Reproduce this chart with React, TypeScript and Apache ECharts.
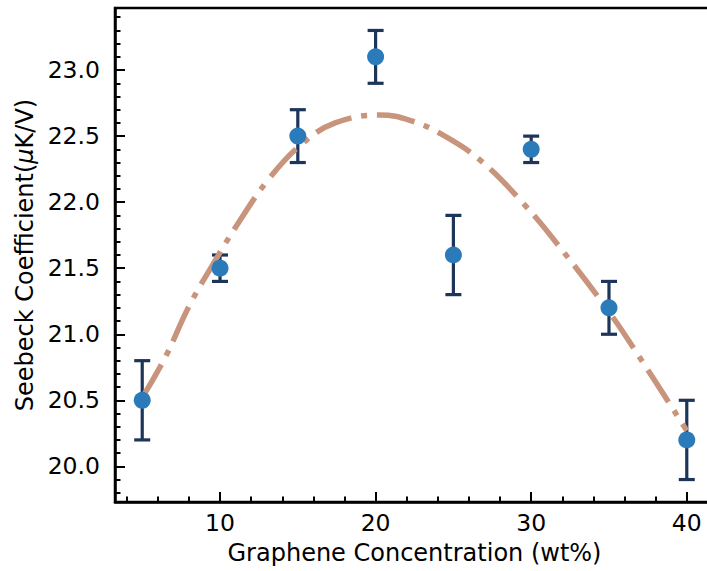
import React, { useEffect, useRef } from 'react';
import * as echarts from 'echarts';

// Measured data (Graphene concentration wt% vs Seebeck coefficient µK/V)
const concentrations = [5, 10, 15, 20, 25, 30, 35, 40];
const seebeck = [20.5, 21.5, 22.5, 23.1, 21.6, 22.4, 21.2, 20.2];
const errors = [0.3, 0.1, 0.2, 0.2, 0.3, 0.1, 0.2, 0.3];

// Fitted curve
const fitX = [5, 6.5, 8, 9.7, 11, 13.1, 15.25, 17.4, 20.3, 22.2, 24.15, 26.7, 29.5, 32.1, 35, 37, 40];
const fitY = [20.52, 20.83, 21.21, 21.56, 21.81, 22.17, 22.44, 22.6, 22.66, 22.62, 22.52, 22.32, 21.99, 21.62, 21.17, 20.82, 20.27];

// Ticks
const xMajorTicks = [10, 20, 30, 40];
const xMinorTicks = [4, 6, 8, 12, 14, 16, 18, 22, 24, 26, 28, 32, 34, 36, 38];
const yMajorTicks = [20.0, 20.5, 21.0, 21.5, 22.0, 22.5, 23.0];
const yMinorTicks = [
  19.8, 19.9, 20.1, 20.2, 20.3, 20.4, 20.6, 20.7, 20.8, 20.9, 21.1, 21.2, 21.3, 21.4,
  21.6, 21.7, 21.8, 21.9, 22.1, 22.2, 22.3, 22.4, 22.6, 22.7, 22.8, 22.9, 23.1, 23.2, 23.3, 23.4,
];

const X_MIN = 3.25;
const X_MAX = 41.75;
const Y_MIN = 19.73;
const Y_MAX = 23.47;

const FONT = 'DejaVu Sans';

export default function App() {
  const ref = useRef<HTMLDivElement>(null);

  useEffect(() => {
    if (!ref.current) return;
    const chart = echarts.init(ref.current, undefined, { renderer: 'svg' });

    const pointData = concentrations.map((x, i) => [x, seebeck[i], errors[i]]);
    const fitData = fitX.map((x, i) => [x, fitY[i]]);

    const tickLine = { color: '#000', width: 2 };

    const option: any = {
      animation: false,
      backgroundColor: '#fff',
      grid: {
        left: 115,
        top: 8,
        width: 599,
        height: 494,
        show: true,
        borderColor: '#000',
        borderWidth: 2.5,
        containLabel: false,
        outerBoundsMode: 'none',
      },
      xAxis: [
        {
          type: 'value',
          min: X_MIN,
          max: X_MAX,
          position: 'bottom',
          name: 'Graphene Concentration (wt%)',
          nameLocation: 'middle',
          nameGap: 39,
          nameTextStyle: { fontFamily: FONT, fontSize: 24, color: '#000' },
          axisLine: { show: true, onZero: false, lineStyle: { color: '#000', width: 2.5 } },
          axisTick: { show: true, inside: true, length: 10, lineStyle: tickLine, customValues: xMajorTicks },
          axisLabel: {
            show: true,
            margin: 9,
            fontFamily: FONT,
            fontSize: 23.5,
            color: '#000',
            customValues: xMajorTicks,
            formatter: (v: number) => String(Math.round(v)),
          },
          splitLine: { show: false },
        },
        {
          type: 'value',
          min: X_MIN,
          max: X_MAX,
          position: 'bottom',
          offset: 0,
          axisLine: { show: false, onZero: false },
          axisTick: { show: true, inside: true, length: 5.5, lineStyle: tickLine, customValues: xMinorTicks },
          axisLabel: { show: false },
          splitLine: { show: false },
        },
      ],
      yAxis: [
        {
          type: 'value',
          min: Y_MIN,
          max: Y_MAX,
          position: 'left',
          name: '{a|Seebeck Coefficient(}{m|μ}{a|K/V)}',
          nameLocation: 'middle',
          nameGap: 76,
          nameTextStyle: {
            fontFamily: FONT,
            fontSize: 24,
            color: '#000',
            rich: {
              a: { fontFamily: FONT, fontSize: 24, color: '#000' },
              m: { fontFamily: FONT, fontSize: 24, color: '#000', fontStyle: 'italic' },
            },
          },
          axisLine: { show: true, onZero: false, lineStyle: { color: '#000', width: 2.5 } },
          axisTick: { show: true, inside: true, length: 10, lineStyle: tickLine, customValues: yMajorTicks },
          axisLabel: {
            show: true,
            margin: 15,
            fontFamily: FONT,
            fontSize: 23.5,
            color: '#000',
            customValues: yMajorTicks,
            formatter: (v: number) => v.toFixed(1),
          },
          splitLine: { show: false },
        },
        {
          type: 'value',
          min: Y_MIN,
          max: Y_MAX,
          position: 'left',
          offset: 0,
          axisLine: { show: false, onZero: false },
          axisTick: { show: true, inside: true, length: 5.5, lineStyle: tickLine, customValues: yMinorTicks },
          axisLabel: { show: false },
          splitLine: { show: false },
        },
      ],
      series: [
        {
          type: 'custom',
          xAxisIndex: 0,
          yAxisIndex: 0,
          data: pointData,
          z: 2,
          renderItem: (params: any, api: any) => {
            const x = api.value(0);
            const y = api.value(1);
            const e = api.value(2);
            const top = api.coord([x, y + e]);
            const bot = api.coord([x, y - e]);
            const hw = 8;
            const style = { stroke: '#1d3559', lineWidth: 3.2 };
            return {
              type: 'group',
              children: [
                { type: 'line', shape: { x1: top[0], y1: top[1], x2: bot[0], y2: bot[1] }, style },
                { type: 'line', shape: { x1: top[0] - hw, y1: top[1], x2: top[0] + hw, y2: top[1] }, style },
                { type: 'line', shape: { x1: bot[0] - hw, y1: bot[1], x2: bot[0] + hw, y2: bot[1] }, style },
              ],
            };
          },
        },
        {
          type: 'line',
          xAxisIndex: 0,
          yAxisIndex: 0,
          data: fitData,
          smooth: 0.4,
          symbol: 'none',
          z: 3,
          lineStyle: { color: '#c8957c', width: 5.5, type: [38, 10, 6, 10], cap: 'butt' },
        },
        {
          type: 'scatter',
          xAxisIndex: 0,
          yAxisIndex: 0,
          data: pointData.map((d) => [d[0], d[1]]),
          symbol: 'circle',
          symbolSize: 17,
          z: 4,
          itemStyle: { color: '#2b7bbb', opacity: 1 },
        },
      ],
    };

    chart.setOption(option);
    return () => chart.dispose();
  }, []);

  return (
    <div
      ref={ref}
      style={{ position: 'absolute', left: 0, top: 0, width: 707, height: 571, background: '#fff' }}
    />
  );
}
